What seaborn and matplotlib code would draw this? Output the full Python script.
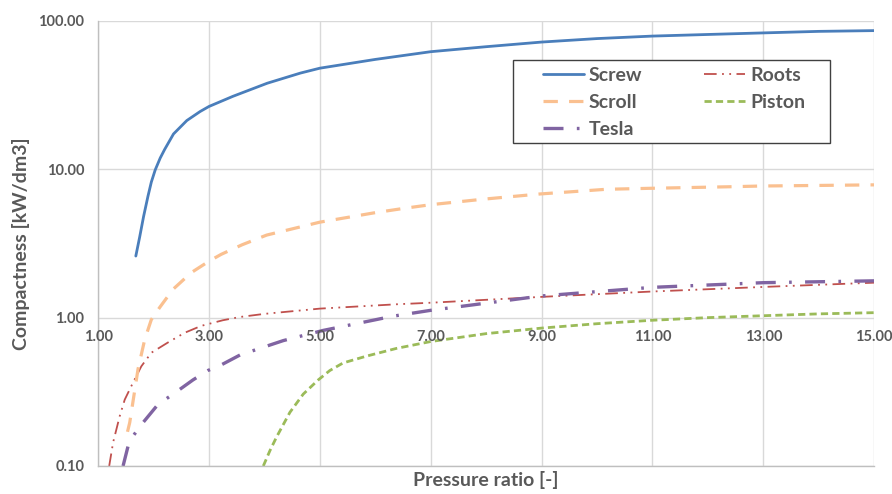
import numpy as np
import pandas as pd
import matplotlib
matplotlib.use("Agg")
import matplotlib.pyplot as plt
from matplotlib.patches import Rectangle
import seaborn as sns

# values (pressure ratio vs compactness)
screw_x = [1.68, 1.75, 1.82, 1.9, 1.96, 2.03, 2.12, 2.2, 2.36, 2.6, 2.84, 3.0, 3.43, 4.05, 4.65, 5.0, 6.0, 7.0, 8.0, 9.0, 10.0, 11.0, 12.0, 13.0, 14.0, 15.0]
screw_y = [2.6, 3.5, 4.8, 6.6, 8.2, 9.9, 11.9, 13.6, 17.3, 21.3, 24.5, 26.5, 31.0, 38.0, 44.5, 48.0, 55.0, 62.0, 67.0, 72.0, 76.0, 79.0, 81.0, 83.0, 85.0, 86.0]

scroll_x = [1.53, 1.57, 1.72, 1.84, 1.96, 2.11, 2.35, 2.68, 3.0, 3.22, 3.6, 4.04, 5.0, 6.0, 6.53, 7.0, 7.94, 8.96, 10.17, 10.95, 12.45, 12.96, 14.0, 15.0]
scroll_y = [0.17, 0.196, 0.45, 0.71, 0.97, 1.17, 1.55, 2.01, 2.4, 2.67, 3.1, 3.6, 4.4, 5.1, 5.46, 5.77, 6.28, 6.81, 7.33, 7.44, 7.63, 7.71, 7.78, 7.85]

roots_x = [1.2, 1.27, 1.39, 1.48, 1.63, 1.78, 1.96, 2.26, 2.56, 2.86, 3.25, 3.56, 4.0, 5.0, 6.38, 7.0, 9.0, 11.0, 13.0, 15.0]
roots_y = [0.1, 0.144, 0.217, 0.28, 0.365, 0.47, 0.58, 0.68, 0.79, 0.88, 0.96, 1.01, 1.06, 1.15, 1.23, 1.26, 1.38, 1.5, 1.61, 1.72]

piston_x = [3.98, 4.1, 4.22, 4.46, 4.7, 4.97, 5.18, 5.42, 5.84, 6.38, 7.0, 8.0, 9.0, 10.0, 11.0, 12.0, 13.0, 14.0, 15.0]
piston_y = [0.1, 0.127, 0.157, 0.23, 0.305, 0.38, 0.44, 0.495, 0.55, 0.62, 0.69, 0.78, 0.85, 0.91, 0.96, 1.0, 1.03, 1.06, 1.08]

tesla_x = [1.45, 1.54, 1.63, 1.78, 2.08, 2.38, 2.71, 2.98, 3.22, 3.56, 4.34, 5.06, 5.96, 6.3, 7.0, 9.0, 11.0, 13.0, 15.0]
tesla_y = [0.1, 0.136, 0.159, 0.19, 0.26, 0.31, 0.38, 0.44, 0.48, 0.56, 0.70, 0.82, 0.96, 1.02, 1.12, 1.4, 1.6, 1.72, 1.77]

xticks = [1, 3, 5, 7, 9, 11, 13, 15]
yticks = [0.1, 1, 10, 100]

series = [
    ("Screw", screw_x, screw_y, "#4A7EBB", 2.0, None),
    ("Roots", roots_x, roots_y, "#C0504D", 1.3, (7, 3, 1, 3, 1, 3)),
    ("Scroll", scroll_x, scroll_y, "#FAC090", 2.3, (4.5, 3.5)),
    ("Piston", piston_x, piston_y, "#9BBB59", 2.0, (2.6, 1.5)),
    ("Tesla", tesla_x, tesla_y, "#8064A2", 2.4, (6, 4, 0.8, 4)),
]

sns.set_theme(style="white")
plt.rcParams["font.family"] = ["Lato", "DejaVu Sans"]
grey = "#595959"

fig = plt.figure(figsize=(8.92, 4.94), dpi=100)
ax = fig.add_axes([0.11, 0.0567, 0.870, 0.901])

handles = {}
for name, xs, ys, col, lw, dash in series:
    sns.lineplot(x=xs, y=ys, ax=ax, color=col, linewidth=lw, label=name)
    line = ax.lines[-1]
    if dash is not None:
        line.set_dashes(dash)
    handles[name] = line

ax.set_yscale("log")
ax.set_xlim(1, 15)
ax.set_ylim(0.1, 100)
ax.set_yticks(yticks)
ax.set_yticklabels([f"{v:.2f}" for v in yticks])
ax.minorticks_off()
ax.set_xticks(xticks)
ax.set_xticklabels([])
ax.grid(True, color="#D9D9D9", linewidth=1)
ax.tick_params(axis="y", labelsize=10.5, labelcolor=grey, pad=10, length=0)
ax.tick_params(axis="x", length=0)
for lab in ax.get_yticklabels():
    lab.set_fontweight("bold")

# x tick labels sit under the y=1 line, as in the original
for xv in xticks:
    ax.annotate(f"{xv:.2f}", xy=(xv, 1.0), xytext=(0, -9), textcoords="offset points",
                ha="center", va="top", fontsize=10.5, fontweight="bold", color=grey,
                annotation_clip=False)

for side in ["top", "right"]:
    ax.spines[side].set_visible(False)
for side in ["left", "bottom"]:
    ax.spines[side].set_color("#BFBFBF")
    ax.spines[side].set_linewidth(1)

ax.set_xlabel("Pressure ratio [-]", fontsize=14, fontweight="bold", color=grey)
ax.xaxis.set_label_coords(0.5, -0.012)
ax.set_ylabel("Compactness [kW/dm3]", fontsize=14, fontweight="bold", color=grey)
ax.yaxis.set_label_coords(-0.088, 0.5)

# legend frame drawn separately (wide side padding, tight top/bottom)
ax.add_patch(Rectangle((0.534, 0.726), 0.409, 0.186, transform=ax.transAxes,
                       fill=True, facecolor="white", edgecolor="#404040",
                       linewidth=1, zorder=4))
order = ["Screw", "Scroll", "Tesla", "Roots", "Piston"]
leg = ax.legend([handles[n] for n in order], order, ncol=2, loc="upper left",
                bbox_to_anchor=(0.573, 0.897), frameon=False,
                fontsize=14, handlelength=2.1, handletextpad=0.25, columnspacing=3.2,
                labelspacing=0.52, borderpad=0, borderaxespad=0)
leg.set_zorder(5)
for t in leg.get_texts():
    t.set_color(grey)
    t.set_fontweight("bold")

fig.savefig("out.png", dpi=100)
